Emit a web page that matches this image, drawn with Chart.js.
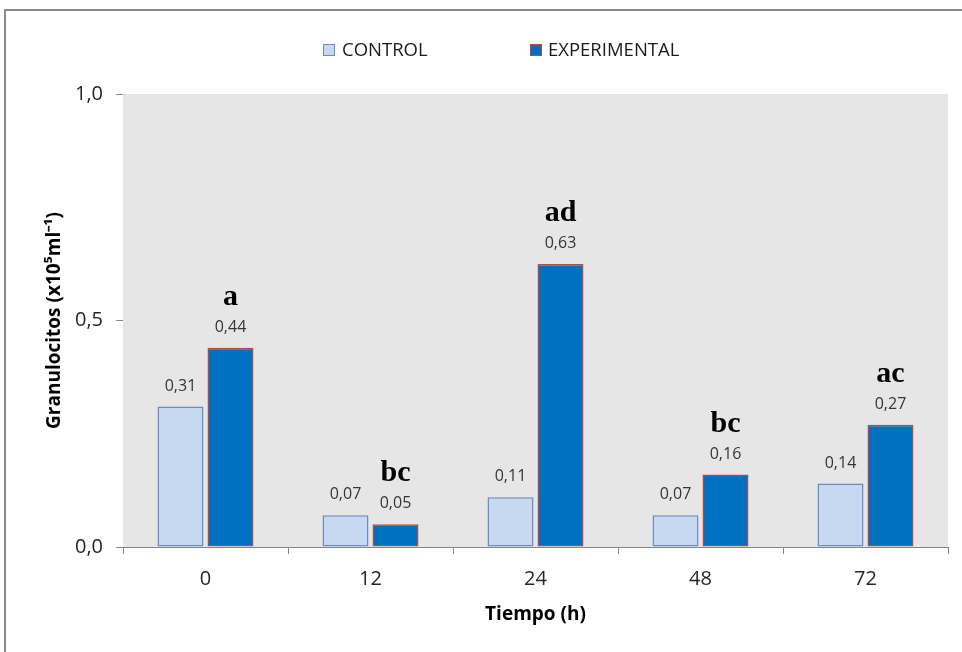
<!DOCTYPE html>
<html>
<head>
<meta charset="utf-8">
<script src="https://cdn.jsdelivr.net/npm/chart.js@4.4.1/dist/chart.umd.min.js"></script>
<style>
  html, body { margin: 0; padding: 0; background: #ffffff; }
  #wrap { position: relative; width: 962px; height: 652px; overflow: hidden; }
  #frame { position: absolute; left: 4px; top: 9px; width: 1000px; height: 700px;
           border-left: 2px solid #8a8a8a; border-top: 2px solid #8a8a8a; box-sizing: border-box; }
  canvas { position: absolute; left: 0; top: 0; }
</style>
</head>
<body>
<div id="wrap">
  <div id="frame"></div>
  <canvas id="c" width="962" height="652"></canvas>
</div>
<script>
// ---- data ----
const categories = ['0', '12', '24', '48', '72'];
const controlValues = [0.31, 0.07, 0.11, 0.07, 0.14];
const experimentalValues = [0.44, 0.05, 0.625, 0.16, 0.27];
const significanceLetters = ['a', 'bc', 'ad', 'bc', 'ac'];
const yTicks = [0, 0.5, 1.0];
const seriesNames = ['CONTROL', 'EXPERIMENTAL'];

const fmt = (v, d) => (Math.round(v * Math.pow(10, d)) / Math.pow(10, d)).toFixed(d).replace('.', ',');

const plotBg = {
  id: 'plotBg',
  beforeDatasetsDraw(chart) {
    const { ctx, chartArea: a } = chart;
    ctx.save();
    ctx.fillStyle = '#e6e6e6';
    ctx.fillRect(a.left, a.top, a.right - a.left, a.bottom - a.top);
    ctx.restore();
  }
};

const valueLabels = {
  id: 'valueLabels',
  afterDatasetsDraw(chart) {
    const { ctx } = chart;
    ctx.save();
    ctx.textAlign = 'center';
    ctx.textBaseline = 'alphabetic';
    chart.data.datasets.forEach((ds, di) => {
      const meta = chart.getDatasetMeta(di);
      meta.data.forEach((bar, i) => {
        ctx.font = '16px "Open Sans"';
        ctx.fillStyle = '#363636';
        ctx.fillText(fmt(ds.data[i], 2), bar.x, bar.y - 16);
        if (di === 1) {
          ctx.font = 'bold 30px "Liberation Serif"';
          ctx.fillStyle = '#000000';
          ctx.fillText(significanceLetters[i], bar.x, bar.y - 43);
        }
      });
    });
    ctx.restore();
  }
};

const customLegend = {
  id: 'customLegend',
  afterDraw(chart) {
    const { ctx } = chart;
    const items = [{ box: 323, text: 342 }, { box: 530, text: 548 }];
    ctx.save();
    chart.data.datasets.forEach((ds, di) => {
      const it = items[di];
      ctx.fillStyle = ds.backgroundColor;
      ctx.fillRect(it.box, 44, 12, 12);
      ctx.strokeStyle = ds.borderColor;
      ctx.lineWidth = 1;
      ctx.strokeRect(it.box + 0.5, 44.5, 11, 11);
      ctx.font = '18.5px "Open Sans"';
      ctx.fillStyle = '#1a1a1a';
      ctx.textBaseline = 'middle';
      ctx.textAlign = 'left';
      ctx.fillText(ds.label, it.text, 51);
    });
    ctx.restore();
  }
};

new Chart(document.getElementById('c'), {
  type: 'bar',
  data: {
    labels: categories,
    datasets: [
      { label: seriesNames[0], data: controlValues, backgroundColor: '#c6d9f1', borderColor: '#6a8cc0', borderWidth: 1.5,
        borderSkipped: false, barPercentage: 0.92, categoryPercentage: 0.606 },
      { label: seriesNames[1], data: experimentalValues, backgroundColor: '#0070c0', borderColor: '#b54a44', borderWidth: 1.5,
        borderSkipped: false, barPercentage: 0.92, categoryPercentage: 0.606 }
    ]
  },
  options: {
    responsive: false,
    animation: false,
    devicePixelRatio: 1,
    layout: { padding: { top: 94, right: 14, left: 0, bottom: 0 } },
    plugins: {
      legend: { display: false },
      tooltip: { enabled: false }
    },
    scales: {
      x: {
        grid: { display: true, drawOnChartArea: false, drawTicks: true, tickLength: 7, color: '#868686', offset: true },
        border: { color: '#868686', width: 1 },
        ticks: { color: '#262626', font: { family: 'Open Sans', size: 20 }, padding: 13 },
        title: { display: true, text: 'Tiempo (h)', color: '#000', font: { family: 'Open Sans', size: 19, weight: 'bold' },
                 padding: { top: 0, bottom: 26 } },
        afterFit(s) { s.height = 105; }
      },
      y: {
        min: 0, max: 1,
        afterBuildTicks(s) { s.ticks = yTicks.map(v => ({ value: v })); },
        grid: { display: true, drawOnChartArea: false, drawTicks: true, tickLength: 7, color: '#868686' },
        border: { color: '#868686', width: 1 },
        ticks: { color: '#262626', font: { family: 'Open Sans', size: 20 }, padding: 13,
                 callback: (v) => fmt(v, 1) },
        title: { display: true, text: 'Granulocitos (x10⁵ml⁻¹)', color: '#000',
                 font: { family: 'Open Sans', size: 19, weight: 'bold' }, padding: { top: 43, bottom: 0 } },
        afterFit(s) { s.width = 123; }
      }
    }
  },
  plugins: [plotBg, valueLabels, customLegend]
});
</script>
</body>
</html>
